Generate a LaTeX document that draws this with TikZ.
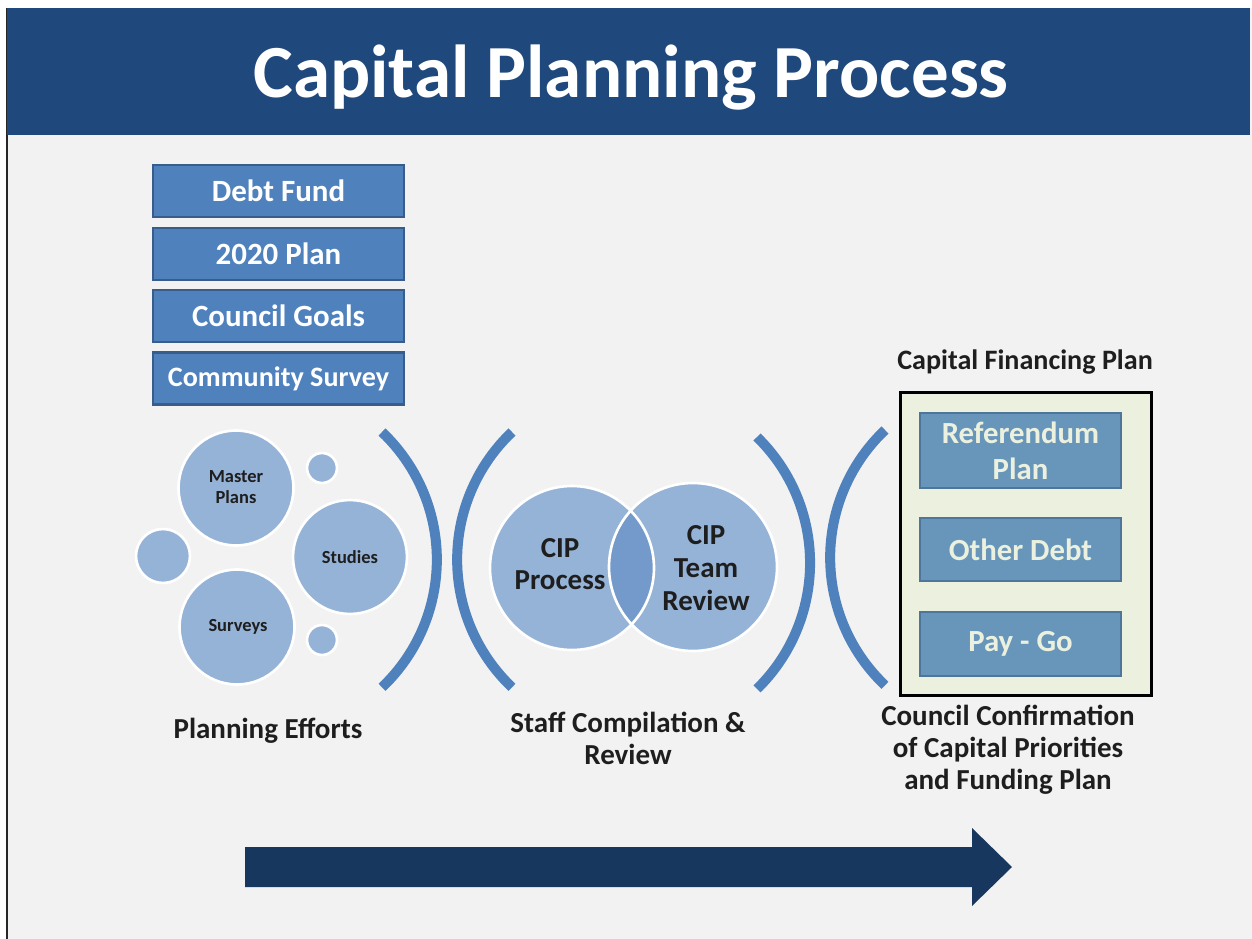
\documentclass[tikz,border=0pt]{standalone}
\usepackage{fontspec}
\setmainfont{Carlito}
\definecolor{hdr}{RGB}{31,73,125}
\definecolor{bgc}{RGB}{242,242,242}
\definecolor{stk}{RGB}{79,129,189}
\definecolor{stkb}{RGB}{56,93,138}
\definecolor{circ}{RGB}{149,179,215}
\definecolor{lens}{RGB}{116,154,203}
\definecolor{arcc}{RGB}{79,129,189}
\definecolor{finbg}{RGB}{235,241,222}
\definecolor{finbox}{RGB}{104,150,186}
\definecolor{finboxb}{RGB}{78,118,155}
\definecolor{txt}{RGB}{30,30,30}
\definecolor{arrowc}{RGB}{23,55,94}
\begin{document}
\begin{tikzpicture}[x=0.02cm,y=0.02cm,
  titletext/.style={text=white,font=\bfseries\fontsize{42.7}{48}\selectfont,inner sep=0,anchor=base},
  stackbox/.style={draw=stkb,fill=stk,line width=1.2pt,minimum width=5.02cm,minimum height=1.04cm,inner sep=0,text=white,font=\bfseries\fontsize{17.6}{20}\selectfont},
  bub/.style={circle,fill=circ,draw=white,line width=1.5pt,inner sep=0},
  bubtext/.style={text=txt,font=\bfseries\fontsize{10.5}{12}\selectfont,align=center,inner sep=0},
  ciptext/.style={text=txt,font=\bfseries\fontsize{16.5}{18.6}\selectfont,align=center,inner sep=0},
  lbl/.style={text=txt,font=\bfseries\fontsize{16.5}{18.2}\selectfont,align=center,inner sep=0},
  arcline/.style={draw=arcc,line width=0.2cm},
  finframe/.style={draw=black,fill=finbg,line width=1.7pt,minimum width=5.04cm,minimum height=6.08cm,inner sep=0},
  finitem/.style={draw=finboxb,fill=finbox,line width=0.8pt,minimum width=4.02cm,inner sep=0,text=finbg,font=\bfseries\fontsize{17.5}{20.5}\selectfont,align=center}
]
\useasboundingbox (0,0) rectangle (1252,-939);
\fill[white] (0,0) rectangle (1252,-939);
\fill[bgc] (8,-8) rectangle (1252,-939);
\draw[black!85,line width=1pt] (7,-8) -- (7,-939);
\fill[hdr] (7,-8) rectangle (1250,-135);
\node[titletext] (title) at (631,-98) {Capital Planning Process};

% stacked boxes
\node[stackbox] (debt) at (278.5,-191) {Debt Fund};
\node[stackbox] (plan2020) at (278.5,-254) {2020 Plan};
\node[stackbox] (goals) at (278.5,-316) {Council Goals};
\node[stackbox,font=\bfseries\fontsize{16}{19}\selectfont] (survey) at (278.5,-378.5) {Community Survey};

% bubbles
\node[bub,minimum size=2.3cm] (master) at (236,-488) {};
\node[bub,minimum size=2.28cm] (studies) at (350,-557) {};
\node[bub,minimum size=2.3cm] (surveys) at (237,-627) {};
\node[bub,minimum size=0.6cm] (smallA) at (322,-468) {};
\node[bub,minimum size=1.08cm] (smallB) at (163,-556) {};
\node[bub,minimum size=0.6cm] (smallC) at (322,-640) {};
\node[bubtext] (mastert) at (236,-487) {Master\\Plans};
\node[bubtext] (studiest) at (350,-557) {Studies};
\node[bubtext] (surveyst) at (238,-627) {Surveys};

% arcs
\draw[arcline] (382,-432) arc[start angle=46.5,end angle=-46.5,radius=176];
\draw[arcline] (512,-432) arc[start angle=133.5,end angle=226.5,radius=176];
\draw[arcline] (757,-437) arc[start angle=45.7,end angle=-45.7,radius=176];
\draw[arcline] (885,-430) arc[start angle=133.5,end angle=226.5,radius=176];

% venn
\node[bub,draw=none,minimum size=3.28cm] (cipA) at (572,-568) {};
\node[bub,draw=none,minimum size=3.36cm] (cipB) at (693,-567) {};
\begin{scope}
  \clip (572,-568) circle[radius=82];
  \fill[lens] (693,-567) circle[radius=84];
\end{scope}
\draw[white,line width=1.5pt] (572,-568) circle[radius=82];
\draw[white,line width=1.5pt] (693,-567) circle[radius=84];
\node[ciptext] (cipAt) at (560,-564) {CIP\\Process};
\node[ciptext] (cipBt) at (706,-568) {CIP\\Team\\Review};

% financing plan
\node[lbl] (finhead) at (1025,-362) {\fontsize{16}{18}\selectfont Capital Financing Plan};
\node[finframe] (finbox) at (1026,-544) {};
\node[finitem,minimum height=1.5cm] (referendum) at (1020.5,-450.5) {Referendum\\Plan};
\node[finitem,minimum height=1.26cm] (otherdebt) at (1020.5,-549.5) {Other Debt};
\node[finitem,minimum height=1.28cm] (paygo) at (1020.5,-644) {Pay - Go};

% labels
\node[lbl] (planning) at (268,-731) {Planning Efforts};
\node[lbl] (staff) at (628,-738) {Staff Compilation \&\\Review};
\node[lbl] (council) at (1008,-750) {Council Confirmation\\of Capital Priorities\\and Funding Plan};

% big arrow
\fill[arrowc] (245,-847) -- (972,-847) -- (972,-828) -- (1012,-867) -- (972,-906) -- (972,-887) -- (245,-887) -- cycle;
\end{tikzpicture}
\end{document}
